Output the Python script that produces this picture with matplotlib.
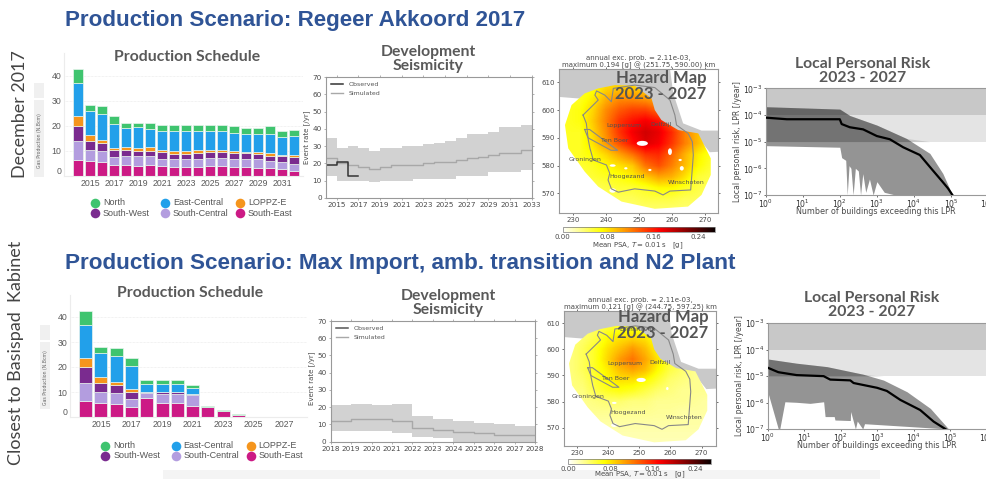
import numpy as np
import matplotlib
matplotlib.use("Agg")
import matplotlib.pyplot as plt
from matplotlib.patches import Polygon, Rectangle, Ellipse
import logging

logging.getLogger("matplotlib.font_manager").setLevel(logging.ERROR)

W, H = 987, 479

# Production schedule, segments per year (bottom to top)
years_a = list(range(2014, 2033))
se_a = [6.5, 5.8, 5.4, 4.5, 4.5, 4.0, 4.4, 3.9, 3.5, 3.5, 3.5, 3.9, 3.9, 3.5, 3.5, 3.1, 3.1, 2.7, 2.0]
sc_a = [7.5, 4.4, 4.4, 3.1, 3.3, 4.0, 3.6, 2.7, 3.1, 3.1, 3.4, 3.4, 3.4, 3.3, 3.2, 3.5, 3.0, 2.9, 2.7]
sw_a = [6.0, 3.8, 3.3, 2.6, 2.6, 2.0, 2.1, 2.8, 2.2, 2.2, 2.3, 2.1, 2.1, 2.2, 2.3, 2.1, 2.0, 2.2, 2.7]
lo_a = [3.8, 2.3, 1.4, 1.1, 1.3, 1.3, 1.3, 1.1, 1.3, 1.3, 1.0, 1.1, 1.1, 1.0, 0.7, 0.7, 0.9, 0.7, 0.8]
ec_a = [13.4, 9.7, 10.3, 9.4, 7.4, 8.1, 7.5, 7.4, 7.7, 7.7, 7.6, 7.5, 7.6, 7.2, 6.9, 7.3, 7.9, 7.2, 7.8]
no_a = [5.3, 2.3, 3.2, 3.2, 2.1, 1.8, 2.3, 2.3, 2.4, 2.4, 2.4, 2.2, 2.1, 2.9, 2.7, 2.6, 2.9, 2.4, 2.4]

years_b = list(range(2014, 2029))
se_b = [6.3, 5.5, 5.1, 4.1, 7.5, 5.7, 5.5, 4.5, 4.0, 2.4, 0.8, 0, 0, 0, 0]
sc_b = [7.4, 4.5, 4.5, 3.2, 2.1, 3.5, 3.7, 4.5, 0, 0, 0, 0, 0, 0, 0]
sw_b = [6.2, 3.7, 3.2, 2.8, 0.5, 0.8, 0.8, 0.1, 0, 0, 0, 0, 0, 0, 0]
lo_b = [3.7, 2.4, 1.2, 1.0, 0.1, 0.1, 0.1, 0, 0, 0, 0, 0, 0, 0, 0]
ec_b = [13.4, 9.6, 10.5, 9.4, 3.1, 3.2, 3.2, 2.5, 0, 0, 0, 0, 0, 0, 0]
no_b = [5.4, 2.4, 3.1, 3.1, 1.4, 1.4, 1.4, 1.3, 0.3, 0.4, 0.4, 0.2, 0.2, 0.2, 0.2]

region_names = ["South-East", "South-Central", "South-West", "LOPPZ-E", "East-Central", "North"]
region_colors = ["#cc1a85", "#b39ddf", "#7a2b8f", "#f5951d", "#22a0ea", "#3fc46f"]

# Seismicity
sy_a = list(range(2014, 2034))
up_a = [35, 29, 30, 29, 27, 29, 29, 30, 30, 31, 32, 33, 35, 37, 37, 38, 41, 41, 42, 42]
lw_a = [13, 10, 10, 10, 9, 10, 10, 10, 11, 11, 11, 11, 13, 13, 13, 15, 15, 15, 16, 16]
sim_a = [23, 20, 19, 18, 17, 18, 19, 19, 19, 20, 21, 21, 22, 23, 24, 25, 26, 26, 28, 28]
obs_y = [2014, 2015, 2016, 2017]
obs_v = [19, 21, 13, 13]

sy_b = list(range(2018, 2029))
up_b = [21, 22, 21, 22, 15, 13, 12, 11, 10, 9, 9]
lw_b = [6, 6, 6, 5, 3, 2, 0, 0, 0, 0, 0]
sim_b = [12, 13, 13, 12, 8, 7, 5.5, 5, 4, 4, 4]

# Hazard maps, PSA [g] on a coarse km grid
grid_x = [228, 232, 236, 240, 244, 248, 252, 256, 260, 264, 268, 272]
grid_y = [612, 608, 604, 600, 596, 592, 588, 584, 580, 576, 572, 568, 564]
psa_a = [
    [.06, .06, .06, .07, .07, .07, .07, .06, .06, .06, .06, .06],
    [.06, .06, .065, .085, .09, .09, .085, .07, .06, .06, .06, .06],
    [.06, .06, .075, .10, .115, .115, .11, .10, .07, .06, .06, .06],
    [.06, .065, .085, .115, .135, .145, .145, .13, .105, .07, .06, .06],
    [.06, .065, .09, .12, .15, .165, .175, .165, .13, .09, .07, .06],
    [.06, .06, .085, .115, .15, .175, .19, .18, .155, .12, .095, .07],
    [.06, .06, .08, .11, .14, .165, .185, .175, .15, .12, .095, .07],
    [.06, .06, .07, .085, .105, .125, .15, .155, .13, .10, .075, .06],
    [.05, .055, .06, .07, .08, .09, .125, .14, .12, .095, .07, .055],
    [.045, .05, .055, .06, .065, .075, .09, .105, .10, .08, .055, .05],
    [.045, .045, .045, .05, .055, .055, .06, .07, .07, .06, .05, .045],
    [.04, .04, .04, .045, .045, .045, .05, .05, .05, .045, .045, .04],
    [.04, .04, .04, .04, .04, .04, .04, .04, .04, .04, .04, .04],
]
psa_b = [
    [.035, .035, .035, .045, .045, .045, .045, .035, .03, .03, .03, .03],
    [.035, .035, .045, .055, .06, .06, .055, .045, .035, .03, .03, .03],
    [.035, .04, .05, .07, .08, .085, .08, .06, .04, .035, .03, .03],
    [.035, .045, .06, .08, .095, .11, .095, .07, .05, .04, .03, .03],
    [.035, .045, .06, .085, .11, .125, .105, .08, .055, .04, .03, .03],
    [.035, .045, .06, .075, .095, .105, .095, .07, .05, .04, .03, .03],
    [.035, .04, .055, .07, .08, .08, .07, .055, .04, .035, .03, .03],
    [.035, .035, .05, .06, .065, .06, .05, .04, .035, .03, .03, .03],
    [.03, .03, .035, .04, .04, .035, .035, .03, .03, .03, .028, .025],
    [.03, .03, .03, .03, .03, .03, .03, .028, .028, .025, .025, .025],
    [.025, .025, .025, .025, .025, .025, .025, .025, .025, .025, .025, .025],
    [.022, .022, .022, .022, .022, .022, .022, .022, .022, .022, .022, .022],
    [.02, .02, .02, .02, .02, .02, .02, .02, .02, .02, .02, .02],
]
footprint = [(237.6, 607.8), (242.7, 609), (248.7, 608.8), (253.8, 604.2), (254.8, 600), (256.8, 596.4),
             (261.9, 592.8), (268, 591.6), (271.8, 582.6), (271.8, 576.6), (269, 569.4), (264.9, 565.2),
             (254.8, 564.4), (244.7, 567), (237.6, 572.4), (233.5, 577.8), (228.5, 586.2), (227.5, 594.6),
             (229.5, 601.8), (233.5, 606)]
field_line = [(233, 598.2), (236.6, 602.4), (237.6, 603.6), (236.6, 605.4), (237.1, 606.9), (239.6, 605.4),
              (241.6, 603), (242.2, 607.8), (248.7, 609), (254.8, 608.1), (259.4, 603.6), (260.9, 598.2),
              (261.4, 594.6), (264.9, 591.6), (266.2, 588.6), (266.5, 583.8), (265.7, 571.2), (259.4, 570.8),
              (257.3, 569.4), (254.8, 570.8), (248.7, 571.6), (243.7, 570.4), (241.6, 571.6), (240.6, 574.8),
              (241.1, 577.2), (240.1, 580.2), (236.1, 582), (235.1, 586.2), (234.6, 589.2), (234, 595.2), (233, 598.2)]
lake_line = [(233.5, 593), (235, 593), (243.5, 585.5), (241.5, 585.5), (234.5, 590), (233.5, 593)]
grey_area = [(225, 615), (259.4, 615), (260.4, 606), (263.4, 595.2), (269, 592.6), (275, 592.6), (275, 585),
             (271.5, 584.8), (268, 590), (261, 591), (256, 594), (252, 600), (250, 606), (237.6, 606), (233.5, 604),
             (225, 604.8)]
holes_a = [(251, 588, 3.4, 1.8), (259.4, 585, 1.2, 2.4), (242, 580, 1.8, 0.9), (242, 571, 2, 1.6),
           (253.3, 578.4, 1, 0.8), (246, 579, 1, 0.8), (262.5, 582, 1, 0.8), (263, 579, 1.2, 1.6)]
holes_b = [(250.6, 588.3, 3, 1.6), (259, 585, 0.8, 1.2), (242, 579.5, 1.5, 0.8), (242, 571, 2, 1.4)]
towns = ["Eemshaven", "Loppersum", "Delfzijl", "Ten Boer", "Groningen", "Hoogezand", "Winschoten"]
town_x = [249.6, 245.4, 256.6, 242.5, 233.7, 246.5, 264.4]
town_y = [607.8, 594.6, 594.9, 588.9, 582, 576, 574]

# Local personal risk curves (number of buildings, exponent of LPR)
med_n_a = [0, .57, 2.0, 2.05, 2.27, 2.63, 3.0, 3.35, 3.71, 4.16, 4.5, 4.77, 4.92, 5.04]
med_a = [-4.1, -4.16, -4.16, -4.34, -4.46, -4.54, -4.79, -4.91, -5.21, -5.5, -6.06, -6.5, -6.75, -7]
top_n_a = [0, 2.0, 2.27, 3.0, 3.8, 4.43, 4.78, 5.04]
top_a = [-3.69, -3.78, -4.02, -4.38, -4.88, -5.44, -6.19, -7]
low_n_a = [0, 2.0, 2.05, 2.16, 2.2, 2.25, 2.3, 2.36, 2.42, 2.5, 2.56, 2.62, 2.7, 2.8, 2.9, 3.0, 3.2, 3.5, 3.8, 5.04]
low_a = [-5.15, -5.21, -5.6, -5.7, -7, -5.9, -6.0, -7, -6.0, -6.1, -7, -6.2, -6.9, -6.4, -7, -6.5, -6.9, -7, -7, -7]

med_n_b = [0, .29, .79, 1.53, 1.71, 2.26, 2.35, 2.99, 3.26, 3.63, 4.17, 4.54, 4.86]
med_b = [-4.68, -4.85, -4.96, -5.0, -5.13, -5.16, -5.26, -5.44, -5.56, -5.9, -6.28, -6.72, -7]
top_n_b = [0, .79, 1.62, 2.62, 3.17, 3.81, 4.45, 4.95]
top_b = [-4.35, -4.51, -4.64, -4.93, -5.15, -5.59, -6.22, -7]
low_n_b = [0, .29, .33, .47, .79, 1.16, 1.53, 1.57, 1.82, 1.84, 2.26, 2.27, 2.4, 2.45, 2.6, 2.65, 4.95]
low_b = [-5.59, -7, -7, -5.97, -5.99, -6.03, -5.97, -6.53, -6.53, -6.66, -6.68, -6.34, -7, -6.7, -7, -6.8, -7]

DARK = "#555555"
LBL = "#4a4a4a"
TITLE_FONT = ["Lato", "DejaVu Sans"]
NARROW = ["Liberation Sans Narrow", "Lato", "DejaVu Sans"]


def box(x0, y0, x1, y1):
    return fig.add_axes([x0 / W, 1 - y1 / H, (x1 - x0) / W, (y1 - y0) / H])


def bars(ax_box, years, parts, width):
    ax = box(*ax_box[:4])
    bottom = np.zeros(len(years))
    for vals, c in zip(parts, region_colors):
        ax.bar(years, vals, width, bottom=bottom, color=c, edgecolor="#e8f4ee", linewidth=0.5)
        bottom += np.array(vals)
    ax.set_xlim(ax_box[4], ax_box[5])
    ax.set_ylim(0, ax_box[6])
    ax.set_yticks([0, 10, 20, 30, 40])
    ax.set_xticks(years[1::2])
    ax.tick_params(length=0, labelsize=6.3, labelcolor="#5a5a5a", pad=2)
    for t in ax.get_xticklabels() + ax.get_yticklabels():
        t.set_fontfamily("Liberation Sans")
    ax.get_yticklabels()[0].set_verticalalignment("bottom")
    ax.grid(axis="y", color="#e6e6e6", linewidth=0.5, linestyle=(0, (1, 1)))
    ax.set_axisbelow(True)
    for s in ("top", "right"):
        ax.spines[s].set_visible(False)
    for s in ("left", "bottom"):
        ax.spines[s].set_color("#ececec")
    return ax


def seismicity(ax_box, ys, up, lo, sim, xt):
    ax = box(*ax_box)
    ax.fill_between(ys, lo, up, step="post", color="#d2d2d2", linewidth=0)
    ax.step(ys, sim, where="post", color="#a8a8a8", linewidth=1, label="Simulated")
    ax.set_xlim(ys[0], ys[-1])
    ax.set_ylim(0, 70)
    ax.set_xticks(xt)
    ax.set_yticks(range(0, 71, 10))
    ax.tick_params(labelsize=5.2, length=1.5, width=0.4, color="#777777", labelcolor=LBL, pad=1.5,
                   top=True, right=True)
    for s in ax.spines.values():
        s.set_color("#999999")
        s.set_linewidth(0.8)
    return ax


def hazard(ax_box, lims, psa, holes, cb_box, title, first_town):
    ax = box(*ax_box)
    ax.add_patch(Polygon(grey_area, closed=True, facecolor="#c9c9c9", edgecolor="none", zorder=1))
    ext = [grid_x[0] - 2, grid_x[-1] + 2, grid_y[-1] - 2, grid_y[0] + 2]
    im = ax.imshow(psa, extent=ext, origin="upper", cmap="hot_r", vmin=0, vmax=0.27,
                   interpolation="bilinear", aspect="auto", zorder=2)
    im.set_clip_path(Polygon(footprint, closed=True, transform=ax.transData))
    for hx, hy, hw, hh in holes:
        ax.add_patch(Ellipse((hx, hy), hw, hh, facecolor="white", edgecolor="none", zorder=3))
    fx, fy = zip(*field_line)
    ax.plot(fx, fy, color="#888888", linewidth=0.8, zorder=4)
    lx, ly = zip(*lake_line)
    ax.plot(lx, ly, color="#888888", linewidth=0.8, zorder=4)
    for name, tx, ty in list(zip(towns, town_x, town_y))[first_town:]:
        ax.text(tx, ty, name, fontsize=4.5, color="#505050", ha="center", va="center", zorder=5)
    ax.set_xlim(*lims[:2])
    ax.set_ylim(*lims[2:])
    ax.set_xticks([230, 240, 250, 260, 270])
    ax.set_yticks([570, 580, 590, 600, 610])
    ax.tick_params(labelsize=5, length=1.5, width=0.4, labelcolor=LBL, pad=1.5, top=True, right=True)
    for s in ax.spines.values():
        s.set_color("#999999")
        s.set_linewidth(0.8)
    ax.set_title(title, fontsize=5, color=LBL, pad=1.5, linespacing=1.0)
    cax = box(*cb_box)
    cb = fig.colorbar(im, cax=cax, orientation="horizontal", ticks=[0, 0.08, 0.16, 0.24])
    cb.ax.set_xticklabels(["0.00", "0.08", "0.16", "0.24"])
    cb.ax.tick_params(labelsize=5, length=0, labelcolor=LBL, pad=1.5)
    cb.outline.set_linewidth(0.5)
    cb.outline.set_edgecolor("#777777")
    return ax


def risk(ax_box, xl, top_n, top, low_n, low, med_n, med):
    ax = box(*ax_box)
    ax.axhspan(1e-4, 1e-3, color="#c8c8c8", linewidth=0, zorder=1)
    ax.axhspan(1e-5, 1e-4, color="#e4e4e4", linewidth=0, zorder=1)
    # common x for the envelope
    xs = np.unique(np.concatenate([top_n, low_n]))
    t = np.interp(xs, top_n, top)
    b = np.interp(xs, low_n, low)
    ax.fill_between(10.0 ** xs, 10.0 ** b, 10.0 ** t, color="black", alpha=0.42, linewidth=0, zorder=2)
    ax.fill_between(10.0 ** xs, 10.0 ** np.maximum(b, -5), 10.0 ** np.maximum(t, -5), color="black", alpha=0.12,
                    linewidth=0, zorder=2)
    ax.plot(10.0 ** np.array(med_n), 10.0 ** np.array(med), color="black", linewidth=1.6, zorder=3)
    ax.set_xscale("log")
    ax.set_yscale("log")
    ax.set_xlim(1, xl)
    ax.set_ylim(1e-7, 1e-3)
    ax.tick_params(which="both", labelsize=5.6, length=1.5, width=0.4, labelcolor="#333333", pad=0.6)
    ax.minorticks_off()
    for s in ax.spines.values():
        s.set_color("#999999")
        s.set_linewidth(0.8)
    return ax


fig = plt.figure(figsize=(W / 100, H / 100), dpi=100)

# pale strip along the bottom, behind the axes
fig.add_artist(Rectangle((163 / W, 0), 717 / W, 9.5 / H, transform=fig.transFigure, facecolor="#f4f4f4",
                         edgecolor="none", zorder=-1))

parts_a = [se_a, sc_a, sw_a, lo_a, ec_a, no_a]
parts_b = [se_b, sc_b, sw_b, lo_b, ec_b, no_b]
bars((64, 53, 303, 176, 2012.83, 2032.75, 49), years_a, parts_a, 0.88)
bars((70, 295, 307, 417, 2012.97, 2028.5, 48.8), years_b, parts_b, 0.85)

ax = seismicity((326, 77, 531.7, 198), sy_a, up_a, lw_a, sim_a, list(range(2015, 2034, 2)))
ax.step(obs_y, obs_v, where="post", color="#333333", linewidth=1.1, label="Observed")
h, l = ax.get_legend_handles_labels()
ax.legend(h[::-1], l[::-1], loc="upper left", frameon=False, fontsize=4.5, labelcolor=DARK, borderaxespad=0.4)

ax = seismicity((330.7, 321, 535, 441.7), sy_b, up_b, lw_b, sim_b, sy_b)
ax.plot([], [], color="#555555", linewidth=1.1, label="Observed")
h, l = ax.get_legend_handles_labels()
ax.legend(h[::-1], l[::-1], loc="upper left", frameon=False, fontsize=4.5, labelcolor=DARK, borderaxespad=0.4)

hazard((558.7, 69, 718, 212.7), (225.6, 274, 563, 614.8), psa_a, holes_a, (562.7, 227.3, 715, 232.3),
       "annual exc. prob. = 2.11e-03,\nmaximum 0.194 [g] @ (251.75, 590.00) km", 1)
hazard((564.3, 311, 715.7, 446), (226, 274.5, 563, 614.7), psa_b, holes_b, (568.3, 459.3, 711, 464.3),
       "annual exc. prob. = 2.11e-03,\nmaximum 0.121 [g] @ (244.75, 597.25) km", 0)

risk((765.7, 88.3, 988, 195), 1e6, top_n_a, top_a, low_n_a, low_a, med_n_a, med_a)
risk((767.7, 323.3, 987, 429), 1e6, top_n_b, top_b, low_n_b, low_b, med_n_b, med_b)

# overlay in pixel coordinates for the slide text
ov = fig.add_axes([0, 0, 1, 1])
ov.set_xlim(0, W)
ov.set_ylim(H, 0)
ov.axis("off")


def txt(x, y, s, **kw):
    kw.setdefault("ha", "center")
    kw.setdefault("va", "center")
    return ov.text(x, y, s, **kw)


# slide headings
txt(65, 20, "Production Scenario: Regeer Akkoord 2017", ha="left", fontsize=16.1, fontweight="bold",
    color="#2f5496", family="Liberation Sans")
txt(65, 263, "Production Scenario: Max Import, amb. transition and N2 Plant", ha="left", fontsize=16.2,
    fontweight="bold", color="#2f5496", family="Liberation Sans")
txt(20, 114, "December 2017", rotation=90, fontsize=12.9, color="#444444", family=NARROW)
txt(16, 353, "Closest to Basispad  Kabinet", rotation=90, fontsize=13, color="#444444", family=NARROW)

# panel headings
for x, y, s in [(187, 57, "Production Schedule"), (190, 293, "Production Schedule"),
                (428, 59, "Development\nSeismicity"), (448, 303, "Development\nSeismicity"),
                (863, 71, "Local Personal Risk\n2023 - 2027"), (872, 305, "Local Personal Risk\n2023 - 2027")]:
    txt(x, y, s, fontsize=11.3, fontweight="bold", color="#595959", family=TITLE_FONT, linespacing=1.0)
for x, y in [(661, 86), (663, 325)]:
    txt(x, y, "Hazard Map\n2023 - 2027", fontsize=12, fontweight="bold", color="#555555", family=TITLE_FONT,
        linespacing=0.95)

# axis labels drawn by hand so they sit where the slide has them
txt(307, 137, "Event rate [/yr]", rotation=90, fontsize=5, color=LBL)
txt(312, 378, "Event rate [/yr]", rotation=90, fontsize=5, color=LBL)
txt(638, 246, "Mean PSA, $T = 0.01$ s   [g]", fontsize=5, color=LBL)
txt(640, 475, "Mean PSA, $T = 0.01$ s   [g]", fontsize=5, color=LBL)
txt(738, 142, "Local personal risk, LPR [/year]", rotation=90, fontsize=5.6, color=LBL)
txt(740, 376, "Local personal risk, LPR [/year]", rotation=90, fontsize=5.6, color=LBL)
txt(876, 212, "Number of buildings exceeding this LPR", fontsize=5.8, color=LBL)
txt(877, 446, "Number of buildings exceeding this LPR", fontsize=5.8, color=LBL)

# grey boxes around the rotated gas production label
for bx, by0, by1, by2, by3 in [(34, 83, 98, 100, 177), (40, 325, 340, 342, 409)]:
    ov.add_patch(Rectangle((bx, by0), 10, by1 - by0, facecolor="#f0f0f0", edgecolor="none"))
    ov.add_patch(Rectangle((bx, by2), 10, by3 - by2, facecolor="#f0f0f0", edgecolor="none"))
    txt(bx + 5, (by2 + by3) / 2 + 2, "Gas Production (N.Bcm)", rotation=90, fontsize=3.3, color="#666666")

# legends of the two stacked bar panels
legend_order = [5, 4, 3, 2, 1, 0]
for x_shift, y_shift in [(0, 0), (10.5, 243)]:
    cols = [(94.7, 103), (165, 173), (240, 248)]
    rows = [202.7, 213]
    for i, k in enumerate(legend_order):
        mx, tx = cols[i % 3]
        my = rows[i // 3]
        ov.scatter(mx + x_shift, my + y_shift, s=48, color=region_colors[k], linewidth=0)
        txt(tx + x_shift, my + y_shift, region_names[k], ha="left", fontsize=6.5,
            color="#555555", family="Liberation Sans")

fig.savefig("out.png", dpi=100)
